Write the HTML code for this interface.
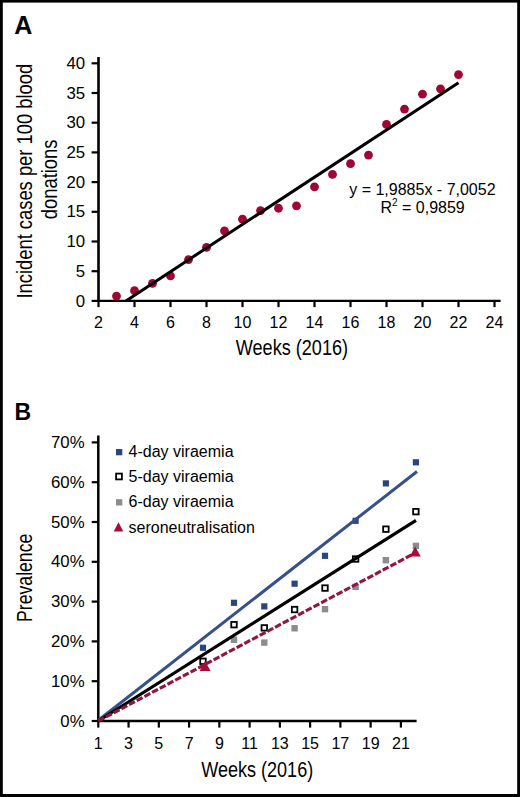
<!DOCTYPE html><html><head><meta charset="utf-8"><style>
html,body{margin:0;padding:0;background:#fff;}
body{width:520px;height:797px;overflow:hidden;position:relative;}
svg{position:absolute;left:0;top:0;display:block;}
text{font-family:"Liberation Sans",sans-serif;fill:#000;}
</style></head><body>
<svg width="520" height="797" viewBox="0 0 520 797">
<rect x="0" y="0" width="520" height="797" fill="#fff"/>
<text x="14.2" y="34.3" font-size="25" font-weight="bold">A</text>
<line x1="91.6" y1="300.90" x2="98.5" y2="300.90" stroke="#000" stroke-width="2.2"/>
<text transform="translate(85.2,306.50) scale(1.05,1)" font-size="16" text-anchor="end">0</text>
<line x1="91.6" y1="271.20" x2="98.5" y2="271.20" stroke="#000" stroke-width="2.2"/>
<text transform="translate(85.2,276.80) scale(1.05,1)" font-size="16" text-anchor="end">5</text>
<line x1="91.6" y1="241.50" x2="98.5" y2="241.50" stroke="#000" stroke-width="2.2"/>
<text transform="translate(85.2,247.10) scale(1.05,1)" font-size="16" text-anchor="end">10</text>
<line x1="91.6" y1="211.80" x2="98.5" y2="211.80" stroke="#000" stroke-width="2.2"/>
<text transform="translate(85.2,217.40) scale(1.05,1)" font-size="16" text-anchor="end">15</text>
<line x1="91.6" y1="182.10" x2="98.5" y2="182.10" stroke="#000" stroke-width="2.2"/>
<text transform="translate(85.2,187.70) scale(1.05,1)" font-size="16" text-anchor="end">20</text>
<line x1="91.6" y1="152.40" x2="98.5" y2="152.40" stroke="#000" stroke-width="2.2"/>
<text transform="translate(85.2,158.00) scale(1.05,1)" font-size="16" text-anchor="end">25</text>
<line x1="91.6" y1="122.70" x2="98.5" y2="122.70" stroke="#000" stroke-width="2.2"/>
<text transform="translate(85.2,128.30) scale(1.05,1)" font-size="16" text-anchor="end">30</text>
<line x1="91.6" y1="93.00" x2="98.5" y2="93.00" stroke="#000" stroke-width="2.2"/>
<text transform="translate(85.2,98.60) scale(1.05,1)" font-size="16" text-anchor="end">35</text>
<line x1="91.6" y1="63.30" x2="98.5" y2="63.30" stroke="#000" stroke-width="2.2"/>
<text transform="translate(85.2,68.90) scale(1.05,1)" font-size="16" text-anchor="end">40</text>
<line x1="98.50" y1="300.9" x2="98.50" y2="307.1" stroke="#000" stroke-width="2.2"/>
<text x="98.50" y="327.6" font-size="16" text-anchor="middle">2</text>
<line x1="134.50" y1="300.9" x2="134.50" y2="307.1" stroke="#000" stroke-width="2.2"/>
<text x="134.50" y="327.6" font-size="16" text-anchor="middle">4</text>
<line x1="170.50" y1="300.9" x2="170.50" y2="307.1" stroke="#000" stroke-width="2.2"/>
<text x="170.50" y="327.6" font-size="16" text-anchor="middle">6</text>
<line x1="206.50" y1="300.9" x2="206.50" y2="307.1" stroke="#000" stroke-width="2.2"/>
<text x="206.50" y="327.6" font-size="16" text-anchor="middle">8</text>
<line x1="242.50" y1="300.9" x2="242.50" y2="307.1" stroke="#000" stroke-width="2.2"/>
<text x="242.50" y="327.6" font-size="16" text-anchor="middle">10</text>
<line x1="278.50" y1="300.9" x2="278.50" y2="307.1" stroke="#000" stroke-width="2.2"/>
<text x="278.50" y="327.6" font-size="16" text-anchor="middle">12</text>
<line x1="314.50" y1="300.9" x2="314.50" y2="307.1" stroke="#000" stroke-width="2.2"/>
<text x="314.50" y="327.6" font-size="16" text-anchor="middle">14</text>
<line x1="350.50" y1="300.9" x2="350.50" y2="307.1" stroke="#000" stroke-width="2.2"/>
<text x="350.50" y="327.6" font-size="16" text-anchor="middle">16</text>
<line x1="386.50" y1="300.9" x2="386.50" y2="307.1" stroke="#000" stroke-width="2.2"/>
<text x="386.50" y="327.6" font-size="16" text-anchor="middle">18</text>
<line x1="422.50" y1="300.9" x2="422.50" y2="307.1" stroke="#000" stroke-width="2.2"/>
<text x="422.50" y="327.6" font-size="16" text-anchor="middle">20</text>
<line x1="458.50" y1="300.9" x2="458.50" y2="307.1" stroke="#000" stroke-width="2.2"/>
<text x="458.50" y="327.6" font-size="16" text-anchor="middle">22</text>
<line x1="494.50" y1="300.9" x2="494.50" y2="307.1" stroke="#000" stroke-width="2.2"/>
<text x="494.50" y="327.6" font-size="16" text-anchor="middle">24</text>
<line x1="98.5" y1="57.0" x2="98.5" y2="302.0" stroke="#000" stroke-width="2.6"/>
<line x1="97.2" y1="300.9" x2="500.6" y2="300.9" stroke="#000" stroke-width="2.4"/>
<circle cx="116.50" cy="296.09" r="4.4" fill="#a00535"/>
<circle cx="134.50" cy="290.68" r="4.4" fill="#a00535"/>
<circle cx="152.50" cy="283.38" r="4.4" fill="#a00535"/>
<circle cx="170.50" cy="275.95" r="4.4" fill="#a00535"/>
<circle cx="188.50" cy="259.62" r="4.4" fill="#a00535"/>
<circle cx="206.50" cy="247.44" r="4.4" fill="#a00535"/>
<circle cx="224.50" cy="230.81" r="4.4" fill="#a00535"/>
<circle cx="242.50" cy="219.17" r="4.4" fill="#a00535"/>
<circle cx="260.50" cy="210.61" r="4.4" fill="#a00535"/>
<circle cx="278.50" cy="208.24" r="4.4" fill="#a00535"/>
<circle cx="296.50" cy="205.86" r="4.4" fill="#a00535"/>
<circle cx="314.50" cy="186.85" r="4.4" fill="#a00535"/>
<circle cx="332.50" cy="174.38" r="4.4" fill="#a00535"/>
<circle cx="350.50" cy="163.69" r="4.4" fill="#a00535"/>
<circle cx="368.50" cy="155.07" r="4.4" fill="#a00535"/>
<circle cx="386.50" cy="124.48" r="4.4" fill="#a00535"/>
<circle cx="404.50" cy="109.04" r="4.4" fill="#a00535"/>
<circle cx="422.50" cy="94.19" r="4.4" fill="#a00535"/>
<circle cx="440.50" cy="88.84" r="4.4" fill="#a00535"/>
<circle cx="458.50" cy="74.59" r="4.4" fill="#a00535"/>
<line x1="125.91" y1="300.90" x2="458.50" y2="82.65" stroke="#000" stroke-width="3.0"/>
<text x="422.4" y="195.0" font-size="16" text-anchor="middle">y = 1,9885x - 7,0052</text>
<text x="422.6" y="213.2" font-size="16" text-anchor="middle">R<tspan font-size="10" dy="-7.2">2</tspan><tspan dy="7.2"> = 0,9859</tspan></text>
<text transform="translate(32.0,181.2) rotate(-90) scale(0.842,1)" font-size="21.8" text-anchor="middle">Incident cases per 100 blood</text>
<text transform="translate(56.7,179.4) rotate(-90) scale(0.842,1)" font-size="21.8" text-anchor="middle">donations</text>
<text transform="translate(291.9,354.8) scale(0.830,1)" font-size="21.8" text-anchor="middle">Weeks (2016)</text>
<text transform="translate(14.6,419.5) scale(0.94,1)" font-size="24.5" font-weight="bold">B</text>
<line x1="91.7" y1="721.00" x2="98.3" y2="721.00" stroke="#000" stroke-width="2.2"/>
<text transform="translate(84.6,726.60) scale(1.05,1)" font-size="16" text-anchor="end">0%</text>
<line x1="91.7" y1="681.20" x2="98.3" y2="681.20" stroke="#000" stroke-width="2.2"/>
<text transform="translate(84.6,686.80) scale(1.05,1)" font-size="16" text-anchor="end">10%</text>
<line x1="91.7" y1="641.40" x2="98.3" y2="641.40" stroke="#000" stroke-width="2.2"/>
<text transform="translate(84.6,647.00) scale(1.05,1)" font-size="16" text-anchor="end">20%</text>
<line x1="91.7" y1="601.60" x2="98.3" y2="601.60" stroke="#000" stroke-width="2.2"/>
<text transform="translate(84.6,607.20) scale(1.05,1)" font-size="16" text-anchor="end">30%</text>
<line x1="91.7" y1="561.80" x2="98.3" y2="561.80" stroke="#000" stroke-width="2.2"/>
<text transform="translate(84.6,567.40) scale(1.05,1)" font-size="16" text-anchor="end">40%</text>
<line x1="91.7" y1="522.00" x2="98.3" y2="522.00" stroke="#000" stroke-width="2.2"/>
<text transform="translate(84.6,527.60) scale(1.05,1)" font-size="16" text-anchor="end">50%</text>
<line x1="91.7" y1="482.20" x2="98.3" y2="482.20" stroke="#000" stroke-width="2.2"/>
<text transform="translate(84.6,487.80) scale(1.05,1)" font-size="16" text-anchor="end">60%</text>
<line x1="91.7" y1="442.40" x2="98.3" y2="442.40" stroke="#000" stroke-width="2.2"/>
<text transform="translate(84.6,448.00) scale(1.05,1)" font-size="16" text-anchor="end">70%</text>
<line x1="98.30" y1="721" x2="98.30" y2="727.6" stroke="#000" stroke-width="2.2"/>
<text x="98.30" y="748.8" font-size="16" text-anchor="middle">1</text>
<line x1="128.56" y1="721" x2="128.56" y2="727.6" stroke="#000" stroke-width="2.2"/>
<text x="128.56" y="748.8" font-size="16" text-anchor="middle">3</text>
<line x1="158.82" y1="721" x2="158.82" y2="727.6" stroke="#000" stroke-width="2.2"/>
<text x="158.82" y="748.8" font-size="16" text-anchor="middle">5</text>
<line x1="189.08" y1="721" x2="189.08" y2="727.6" stroke="#000" stroke-width="2.2"/>
<text x="189.08" y="748.8" font-size="16" text-anchor="middle">7</text>
<line x1="219.34" y1="721" x2="219.34" y2="727.6" stroke="#000" stroke-width="2.2"/>
<text x="219.34" y="748.8" font-size="16" text-anchor="middle">9</text>
<line x1="249.60" y1="721" x2="249.60" y2="727.6" stroke="#000" stroke-width="2.2"/>
<text x="249.60" y="748.8" font-size="16" text-anchor="middle">11</text>
<line x1="279.86" y1="721" x2="279.86" y2="727.6" stroke="#000" stroke-width="2.2"/>
<text x="279.86" y="748.8" font-size="16" text-anchor="middle">13</text>
<line x1="310.12" y1="721" x2="310.12" y2="727.6" stroke="#000" stroke-width="2.2"/>
<text x="310.12" y="748.8" font-size="16" text-anchor="middle">15</text>
<line x1="340.38" y1="721" x2="340.38" y2="727.6" stroke="#000" stroke-width="2.2"/>
<text x="340.38" y="748.8" font-size="16" text-anchor="middle">17</text>
<line x1="370.64" y1="721" x2="370.64" y2="727.6" stroke="#000" stroke-width="2.2"/>
<text x="370.64" y="748.8" font-size="16" text-anchor="middle">19</text>
<line x1="400.90" y1="721" x2="400.90" y2="727.6" stroke="#000" stroke-width="2.2"/>
<text x="400.90" y="748.8" font-size="16" text-anchor="middle">21</text>
<line x1="98.3" y1="435.6" x2="98.3" y2="722.2" stroke="#000" stroke-width="2.5"/>
<line x1="97.0" y1="721.0" x2="416.6" y2="721.0" stroke="#000" stroke-width="2.4"/>
<rect x="230.80" y="636.61" width="6.4" height="6.4" fill="#8c8c8c"/>
<rect x="261.10" y="639.39" width="6.4" height="6.4" fill="#8c8c8c"/>
<rect x="291.40" y="625.07" width="6.4" height="6.4" fill="#8c8c8c"/>
<rect x="321.80" y="605.96" width="6.4" height="6.4" fill="#8c8c8c"/>
<rect x="352.40" y="583.67" width="6.4" height="6.4" fill="#8c8c8c"/>
<rect x="382.70" y="557.01" width="6.4" height="6.4" fill="#8c8c8c"/>
<rect x="412.70" y="542.68" width="6.4" height="6.4" fill="#8c8c8c"/>
<rect x="199.90" y="644.67" width="6.2" height="6.2" fill="#2a4582"/>
<rect x="230.90" y="599.69" width="6.2" height="6.2" fill="#2a4582"/>
<rect x="261.20" y="603.28" width="6.2" height="6.2" fill="#2a4582"/>
<rect x="291.50" y="580.59" width="6.2" height="6.2" fill="#2a4582"/>
<rect x="321.90" y="552.73" width="6.2" height="6.2" fill="#2a4582"/>
<rect x="352.50" y="517.71" width="6.2" height="6.2" fill="#2a4582"/>
<rect x="382.80" y="480.29" width="6.2" height="6.2" fill="#2a4582"/>
<rect x="412.80" y="459.20" width="6.2" height="6.2" fill="#2a4582"/>
<rect x="200.25" y="658.55" width="5.5" height="5.5" fill="#fff" stroke="#000" stroke-width="1.8"/>
<rect x="231.25" y="621.93" width="5.5" height="5.5" fill="#fff" stroke="#000" stroke-width="1.8"/>
<rect x="261.55" y="625.12" width="5.5" height="5.5" fill="#fff" stroke="#000" stroke-width="1.8"/>
<rect x="291.85" y="606.81" width="5.5" height="5.5" fill="#fff" stroke="#000" stroke-width="1.8"/>
<rect x="322.25" y="585.32" width="5.5" height="5.5" fill="#fff" stroke="#000" stroke-width="1.8"/>
<rect x="352.85" y="556.26" width="5.5" height="5.5" fill="#fff" stroke="#000" stroke-width="1.8"/>
<rect x="383.15" y="526.41" width="5.5" height="5.5" fill="#fff" stroke="#000" stroke-width="1.8"/>
<rect x="413.15" y="508.90" width="5.5" height="5.5" fill="#fff" stroke="#000" stroke-width="1.8"/>
<line x1="98.3" y1="720.3" x2="417" y2="471.5" stroke="#36508a" stroke-width="3.0"/>
<line x1="98.3" y1="721" x2="416" y2="520.4" stroke="#000" stroke-width="3.2"/>
<line x1="98.3" y1="721" x2="416.5" y2="552.3" stroke="#94143f" stroke-width="3.1" stroke-dasharray="6.6 2.1"/>
<polygon points="199.60,670.90 210.60,670.90 205.10,661.00" fill="#ab0b37"/>
<polygon points="409.70,556.50 420.70,556.50 415.20,546.60" fill="#ab0b37"/>
<rect x="116" y="449" width="6.3" height="6.3" fill="#2a4582"/>
<text x="128.6" y="457.2" font-size="16">4-day viraemia</text>
<rect x="116.1" y="473.6" width="5.8" height="5.8" fill="#fff" stroke="#000" stroke-width="1.8"/>
<text x="128.6" y="482.4" font-size="16">5-day viraemia</text>
<rect x="116" y="499.2" width="6.3" height="6.3" fill="#8c8c8c"/>
<text x="128.6" y="507.4" font-size="16">6-day viraemia</text>
<polygon points="113.7,531.5 123.3,531.5 118.5,522.3" fill="#ab0b37"/>
<text x="128.6" y="532.5" font-size="16">seroneutralisation</text>
<text transform="translate(31.9,577.8) rotate(-90) scale(0.809,1)" font-size="21.8" text-anchor="middle">Prevalence</text>
<text transform="translate(257.2,777.2) scale(0.828,1)" font-size="21.8" text-anchor="middle">Weeks (2016)</text>
<rect x="0" y="0" width="2.8" height="797" fill="#000"/>
<rect x="0" y="0" width="520" height="2.6" fill="#000"/>
<rect x="517.2" y="0" width="2.8" height="797" fill="#000"/>
<rect x="0" y="794" width="520" height="3" fill="#000"/>
</svg></body></html>
